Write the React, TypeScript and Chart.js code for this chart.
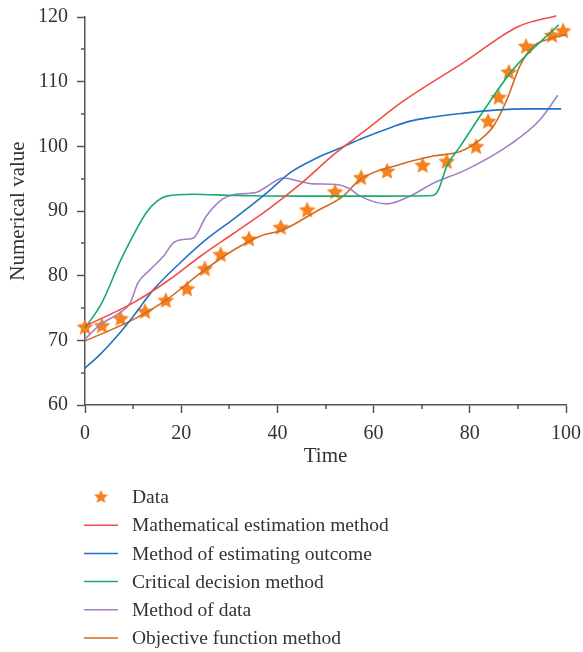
import React, { useEffect, useRef } from "react";
import { Chart, registerables } from "chart.js";
Chart.register(...registerables);

// ---- Data ----
const xTickStep = 20;
const yTickStep = 10;

const dataX = [0, 3.5, 7.4, 12.5, 16.8, 21.2, 24.9, 28.2, 34.1, 40.7, 46.2, 52.0, 57.4, 62.8, 70.2, 75.2, 81.3, 83.8, 86.0, 88.1, 91.7, 97.1, 99.4];
const dataY = [72.1, 72.3, 73.4, 74.5, 76.2, 78.0, 81.1, 83.3, 85.7, 87.5, 90.2, 93.0, 95.2, 96.2, 97.1, 97.7, 100.0, 103.9, 107.6, 111.5, 115.5, 117.2, 117.9];

const mathX = [0, 10, 17, 24, 31, 38, 45, 52, 58, 66, 79, 90, 98];
const mathY = [72.2, 75.8, 79.1, 83.0, 86.6, 90.2, 94.3, 98.9, 102.3, 106.9, 113.1, 118.5, 120.2];

const outcomeX = [0, 3.1, 6.6, 10, 14.2, 19.8, 25.2, 30.8, 37.8, 42.6, 48.2, 52.3, 57.2, 63.9, 67.6, 72, 78.4, 85.2, 92.3, 99];
const outcomeY = [65.7, 67.8, 70.6, 73.7, 77.8, 82.0, 85.6, 88.7, 92.8, 95.9, 98.2, 99.5, 101.1, 103.0, 103.9, 104.5, 105.1, 105.6, 105.8, 105.8];

const criticalX = [0, 3.5, 7.3, 10, 12.8, 14.9, 17, 22.5, 31, 45, 60, 72.3, 73.5, 75.2, 78, 83.5, 89, 98.5];
const criticalY = [71.9, 75.8, 82.2, 86.2, 89.8, 91.5, 92.3, 92.6, 92.4, 92.3, 92.3, 92.4, 93.3, 96.9, 100.0, 106.2, 111.9, 118.8];

const methodDataX = [0, 3.1, 7.3, 9.4, 11, 13.5, 16.3, 18.4, 20.4, 22.5, 25.2, 28, 30.8, 35.7, 37.8, 41.2, 44.6, 47.5, 52.3, 55.1, 57.2, 62.7, 67.6, 72.4, 79.3, 88.4, 94.6, 98.3];
const methodDataY = [70.2, 72.4, 74.3, 75.8, 78.9, 80.9, 83.0, 85.1, 85.6, 85.8, 89.2, 91.5, 92.5, 92.9, 93.8, 95.1, 94.6, 94.2, 94.1, 93.4, 92.3, 91.1, 92.3, 94.3, 96.4, 100.3, 104.1, 107.9];

const objectiveX = [0, 10, 17, 24, 31, 36.4, 41.2, 48.2, 53.7, 57.2, 65.5, 72.4, 78, 82.1, 84.9, 87.7, 90.4, 93.2, 96, 100];
const objectiveY = [69.9, 73.2, 76.3, 80.4, 84.0, 86.1, 87.1, 90.0, 92.3, 94.9, 97.2, 98.5, 99.2, 101.0, 103.1, 107.2, 112.4, 115.5, 116.5, 117.3];

const labels = [
  "Data",
  "Mathematical estimation method",
  "Method of estimating outcome",
  "Critical decision method",
  "Method of data",
  "Objective function method",
];
const colors = ["#f5821f", "#f04e45", "#2272c3", "#1aab6b", "#a57fc6", "#d2691f"];

const FONT = "'Liberation Serif', 'DejaVu Serif', serif";
const TEXT = "#333333";
const AXIS = "#555555";

const pts = (xs: number[], ys: number[]) => xs.map((x, i) => ({ x, y: ys[i] }));

function makeStar(color: string, size: number) {
  const c = document.createElement("canvas");
  c.width = size;
  c.height = size;
  const ctx = c.getContext("2d")!;
  const cx = size / 2, cy = size / 2 + 0.6;
  const R = size / 2 - 0.2, r = R * 0.47;
  ctx.beginPath();
  for (let i = 0; i < 10; i++) {
    const ang = -Math.PI / 2 + (i * Math.PI) / 5;
    const rad = i % 2 === 0 ? R : r;
    const px = cx + rad * Math.cos(ang), py = cy + rad * Math.sin(ang);
    if (i === 0) ctx.moveTo(px, py); else ctx.lineTo(px, py);
  }
  ctx.closePath();
  ctx.fillStyle = color;
  ctx.fill();
  return c;
}

export default function App() {
  const ref = useRef<HTMLCanvasElement>(null);
  useEffect(() => {
    const star = makeStar(colors[0], 18);
    const legendStar = makeStar(colors[0], 15);

    const minorTicks = {
      id: "minorTicks",
      afterDraw(chart: any) {
        const { ctx, chartArea, scales } = chart;
        ctx.save();
        ctx.strokeStyle = AXIS;
        ctx.lineWidth = 1.5;
        for (let v = 10; v < 100; v += 20) {
          const px = Math.round(scales.x.getPixelForValue(v));
          ctx.beginPath();
          ctx.moveTo(px, chartArea.bottom);
          ctx.lineTo(px, chartArea.bottom + 4);
          ctx.stroke();
        }
        for (let v = 65; v < 120; v += 10) {
          const py = Math.round(scales.y.getPixelForValue(v));
          ctx.beginPath();
          ctx.moveTo(chartArea.left - 4, py);
          ctx.lineTo(chartArea.left, py);
          ctx.stroke();
        }
        ctx.restore();
      },
    };

    const legendPlugin = {
      id: "vLegend",
      afterDraw(chart: any) {
        const { ctx, chartArea } = chart;
        const x0 = chartArea.left - 1;
        const top = 497;
        const step = 28.2;
        ctx.save();
        ctx.font = `19.5px ${FONT}`;
        ctx.textBaseline = "middle";
        ctx.textAlign = "left";
        labels.forEach((lab, i) => {
          const y = top + i * step;
          if (i === 0) {
            ctx.drawImage(legendStar, x0 + 17 - 7.5, y - 8);
          } else {
            ctx.strokeStyle = colors[i];
            ctx.lineWidth = 1.5;
            ctx.beginPath();
            ctx.moveTo(x0, y);
            ctx.lineTo(x0 + 34, y);
            ctx.stroke();
          }
          ctx.fillStyle = TEXT;
          ctx.fillText(lab, x0 + 48, y + 1);
        });
        ctx.restore();
      },
    };

    const lineDs = (label: string, xs: number[], ys: number[], color: string) => ({
      label,
      data: pts(xs, ys),
      showLine: true,
      borderColor: color,
      backgroundColor: color,
      borderWidth: 1.6,
      pointRadius: 0,
      cubicInterpolationMode: "monotone" as const,
      order: 1,
      clip: false as const,
    });

    const noPad = (s: any) => {
      s.paddingLeft = 0;
      s.paddingRight = 0;
      s.paddingTop = 0;
      s.paddingBottom = 0;
    };

    const chart = new Chart(ref.current!, {
      type: "scatter",
      data: {
        datasets: [
          {
            label: labels[0],
            data: pts(dataX, dataY),
            pointStyle: star as any,
            pointRadius: 9,
            showLine: false,
            order: 5,
            clip: false as const,
          },
          lineDs(labels[1], mathX, mathY, colors[1]),
          lineDs(labels[2], outcomeX, outcomeY, colors[2]),
          lineDs(labels[3], criticalX, criticalY, colors[3]),
          lineDs(labels[4], methodDataX, methodDataY, colors[4]),
          lineDs(labels[5], objectiveX, objectiveY, colors[5]),
        ] as any,
      },
      options: {
        animation: false,
        responsive: false,
        devicePixelRatio: 1,
        layout: { padding: { top: 17, right: 17, bottom: 177, left: 0 } },
        plugins: { legend: { display: false }, tooltip: { enabled: false } },
        scales: {
          x: {
            type: "linear",
            min: 0,
            max: 100,
            ticks: { stepSize: xTickStep, color: TEXT, font: { family: FONT, size: 20 }, padding: 9, maxRotation: 0 },
            grid: { drawOnChartArea: false, drawTicks: true, tickLength: 8, tickColor: AXIS, tickWidth: 1.5 },
            border: { display: true, color: AXIS, width: 1.5 },
            title: { display: true, text: "Time", color: TEXT, font: { family: FONT, size: 21 }, padding: { top: 0, bottom: 6 } },
            afterFit: (s: any) => { s.height = 70; noPad(s); },
          },
          y: {
            type: "linear",
            min: 60,
            max: 120,
            ticks: { stepSize: yTickStep, color: TEXT, font: { family: FONT, size: 20 }, padding: 9 },
            grid: { drawOnChartArea: false, drawTicks: true, tickLength: 8, tickColor: AXIS, tickWidth: 1.5 },
            border: { display: true, color: AXIS, width: 1.5 },
            title: { display: true, text: "Numerical value", color: TEXT, font: { family: FONT, size: 21 }, padding: { top: 6, bottom: 0 } },
            afterFit: (s: any) => { s.width = 85; noPad(s); },
          },
        },
      } as any,
      plugins: [minorTicks, legendPlugin],
    });
    return () => chart.destroy();
  }, []);

  return (
    <div style={{ position: "absolute", left: 0, top: 0, width: 583, height: 652, background: "#fff" }}>
      <canvas ref={ref} width={583} height={652} style={{ display: "block", width: 583, height: 652 }} />
    </div>
  );
}
